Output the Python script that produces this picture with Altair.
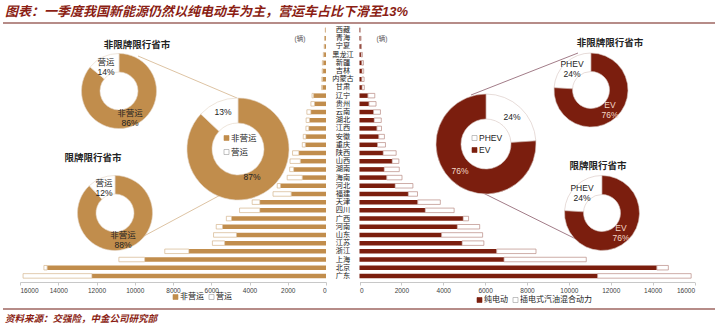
import altair as alt
import pandas as pd

# ---------------- data ----------------
provinces = ["西藏", "青海", "宁夏", "黑龙江", "新疆", "吉林", "内蒙古", "甘肃", "辽宁", "贵州",
             "云南", "湖北", "江西", "安徽", "重庆", "陕西", "山西", "湖南", "海南", "河北",
             "福建", "天津", "四川", "广西", "河南", "山东", "江苏", "浙江", "上海", "北京", "广东"]
non_operating = [30, 60, 80, 110, 150, 160, 180, 190, 650, 600, 790, 860, 900, 1050, 1080,
                 1420, 1340, 1690, 1240, 2380, 1820, 3460, 3460, 4940, 5410, 4680, 5300,
                 7170, 9480, 14580, 12240]
operating = [5, 10, 15, 30, 40, 40, 40, 40, 80, 190, 210, 180, 150, 140, 160,
             330, 540, 210, 790, 170, 950, 400, 1060, 270, 330, 1200, 640,
             1260, 1350, 170, 3600]
ev = [25, 55, 70, 80, 110, 120, 110, 120, 400, 450, 670, 700, 830, 920, 860,
      1130, 1560, 1180, 1300, 1700, 2330, 2780, 3140, 4950, 4670, 3920, 4900,
      6550, 6900, 14200, 11370]
phev = [10, 15, 25, 60, 80, 80, 110, 110, 330, 340, 330, 340, 220, 270, 380,
        620, 320, 720, 730, 850, 440, 1080, 1380, 260, 1070, 1960, 1040,
        1880, 3930, 550, 4470]

use_parts = ["非营运", "营运"]
use_nonlimited = [86, 14]
use_limited = [88, 12]
use_national = [87, 13]
pt_parts = ["PHEV", "EV"]
pt_nonlimited = [24, 76]
pt_limited = [24, 76]
pt_national = [24, 76]

axis_ticks = list(range(0, 16001, 2000))

# ---------------- style ----------------
FONT = "Liberation Sans, Noto Sans CJK SC"
TAN = "#C18D4C"
TAN_LINE = "#D4B48C"
RED = "#7B1E0E"
RED_LINE = "#B88A82"
TITLE_RED = "#8B1E14"

bars = pd.DataFrame({
    "province": provinces,
    "non_operating": non_operating,
    "operating": operating,
    "ev": ev,
    "phev": phev,
})
bars["total_left"] = bars["non_operating"] + bars["operating"]
bars["total_right"] = bars["ev"] + bars["phev"]

Y = alt.Y("province:N", sort=provinces,
          scale=alt.Scale(domain=provinces, range=[26, 280], paddingInner=0.45, paddingOuter=0.225),
          axis=None)

XL = alt.Scale(domain=[0, 16000], range=[326, 20], nice=False)
XR = alt.Scale(domain=[0, 16000], range=[359.5, 694.5], nice=False)


def x_axis():
    return alt.Axis(values=axis_ticks, orient="bottom", offset=-44, format="d",
                    labelFontSize=6.5, labelColor="#404040", labelFont="Liberation Sans",
                    domainColor="#c8c8c8", tickColor="#c8c8c8", tickSize=3,
                    labelPadding=2, grid=False, title=None)


left_nonop = alt.Chart(bars).mark_bar(color=TAN).encode(
    x=alt.X("non_operating:Q", scale=XL, axis=x_axis(), stack=None), y=Y)
left_op = alt.Chart(bars).mark_bar(fill="white", stroke=TAN_LINE, strokeWidth=0.7).encode(
    x=alt.X("non_operating:Q", scale=XL, axis=None, stack=None), x2="total_left:Q", y=Y)
right_ev = alt.Chart(bars).mark_bar(color=RED).encode(
    x=alt.X("ev:Q", scale=XR, axis=x_axis(), stack=None), y=Y)
right_phev = alt.Chart(bars).mark_bar(fill="white", stroke=RED_LINE, strokeWidth=0.7).encode(
    x=alt.X("ev:Q", scale=XR, axis=None, stack=None), x2="total_right:Q", y=Y)

prov_labels = alt.Chart(bars).mark_text(align="center", baseline="middle", fontSize=7.2,
                                         font=FONT, color="#1a1a1a").encode(
    y=Y, x=alt.value(343), text="province:N")

COLOR = alt.Scale(domain=["非营运", "营运", "EV", "PHEV"], range=[TAN, "white", RED, "white"])


def donut(parts, vals, cx, cy, r0, r1, stroke, order):
    df = pd.DataFrame({"part": parts, "pct": vals, "idx": order})
    return alt.Chart(df).mark_arc(innerRadius=r0, outerRadius=r1, stroke=stroke, strokeWidth=0.6).encode(
        theta=alt.Theta("pct:Q", stack=True, scale=alt.Scale(domain=[0, 100])),
        order=alt.Order("idx:Q"),
        color=alt.Color("part:N", scale=COLOR, legend=None),
        x=alt.value(cx), y=alt.value(cy))


def txt(s, x, y, size=8.5, color="#222", weight="normal", align="center", italic=False, font=FONT):
    return alt.Chart(alt.Data(values=[{"t": s}])).mark_text(
        fontSize=size, color=color, fontWeight=weight, align=align, baseline="middle",
        font=font, fontStyle="italic" if italic else "normal",
        lineBreak="\n", lineHeight=10).encode(
        x=alt.value(x), y=alt.value(y), text="t:N")


def lbl(name, pct, x, y, color="#222"):
    # two-line label (name over percentage), anchored at its vertical centre
    return txt(f"{name}\n{pct}%", x, y - 5, color=color)


def rule(x1, y1, x2, y2, color, width=0.8):
    return alt.Chart(alt.Data(values=[{"a": 1}])).mark_rule(color=color, strokeWidth=width).encode(
        x=alt.value(x1), y=alt.value(y1), x2=alt.value(x2), y2=alt.value(y2))


def box(x, y, fill, stroke, s=5):
    return alt.Chart(alt.Data(values=[{"a": 1}])).mark_rect(fill=fill, stroke=stroke, strokeWidth=0.6).encode(
        x=alt.value(x), x2=alt.value(x + s), y=alt.value(y - s / 2), y2=alt.value(y + s / 2))


layers = [left_nonop, left_op, right_ev, right_phev, prov_labels]

# connector lines
layers += [rule(138, 56, 237, 98, TAN_LINE), rule(144, 236, 226, 192, TAN_LINE),
           rule(471, 95, 578, 53, "#8a5a6a"), rule(477, 190, 584, 243, "#8a5a6a")]

# donuts
LIGHT = "#e2d3c2"
LIGHT_R = "#d6c4c0"
layers += [
    donut(use_parts, use_nonlimited, 119, 91, 19, 37.5, LIGHT, [0, 1]),
    donut(use_parts, use_limited, 115, 213, 19, 37.5, LIGHT, [0, 1]),
    donut(use_parts, use_national, 238, 149, 26, 51, LIGHT, [0, 1]),
    donut(pt_parts, pt_national, 486, 144, 25, 50, LIGHT_R, [0, 1]),
    donut(pt_parts, pt_nonlimited, 591, 90, 18.5, 37, LIGHT_R, [1, 0]),
    donut(pt_parts, pt_limited, 602, 213, 18.5, 37.5, LIGHT_R, [1, 0]),
]

LT = "#f4d9c8"
# donut titles and labels
layers += [
    txt("非限牌限行省市", 137, 45, size=9.5, weight="bold"),
    lbl(use_parts[1], use_nonlimited[1], 106, 67),
    lbl(use_parts[0], use_nonlimited[0], 130, 118),
    txt("限牌限行省市", 93, 158, size=9.5, weight="bold"),
    lbl(use_parts[1], use_limited[1], 104, 188),
    lbl(use_parts[0], use_limited[0], 123, 240),
    txt(f"{use_national[1]}%", 223, 112), txt(f"{use_national[0]}%", 252, 177),
    box(224, 138, TAN, TAN), txt(use_parts[0], 231, 138, align="left"),
    box(224, 152, "white", "#999"), txt(use_parts[1], 231, 152, align="left"),
    txt("非限牌限行省市", 610, 43, size=9.5, weight="bold"),
    lbl(pt_parts[0], pt_nonlimited[0], 572, 69),
    lbl(pt_parts[1], pt_nonlimited[1], 610, 110, color=LT),
    txt("限牌限行省市", 598, 166, size=9.5, weight="bold"),
    lbl(pt_parts[0], pt_limited[0], 582, 193),
    lbl(pt_parts[1], pt_limited[1], 621, 233, color=LT),
    txt(f"{pt_national[0]}%", 512, 117), txt(f"{pt_national[1]}%", 460, 171, color=LT),
    box(472, 138, "white", "#999"), txt(pt_parts[0], 479, 138, align="left"),
    box(472, 150, RED, RED), txt(pt_parts[1], 479, 150, align="left"),
]

# units, legends
layers += [
    txt("(辆)", 300, 39, size=6.5, color="#555"),
    txt("(辆)", 382, 39, size=6.5, color="#555"),
    box(173, 297, TAN, TAN), txt("非营运", 180, 297, size=8, align="left"),
    box(209, 297, "white", "#999"), txt("营运", 216, 297, size=8, align="left"),
    box(477, 300, RED, RED), txt("纯电动", 484, 300, size=8, align="left"),
    box(513, 300, "white", "#999"), txt("插电式汽油混合动力", 520, 300, size=8, align="left"),
]

# title & footer
layers += [
    txt("图表：一季度我国新能源仍然以纯电动车为主，营运车占比下滑至13%", 5, 12, size=13,
        color=TITLE_RED, weight="bold", align="left", italic=True),
    rule(3, 23, 715, 23, "#6e1a12", 1.2),
    rule(3, 309, 715, 309, "#6e1a12", 1.2),
    txt("资料来源：交强险，中金公司研究部", 5, 319, size=9.5, color=TITLE_RED,
        weight="bold", align="left", italic=True),
]

chart = alt.layer(*layers).resolve_scale(x="independent").resolve_axis(x="independent").properties(
    width=718, height=326, padding=0, autosize=alt.AutoSizeParams(type="none"),
    background="white",
).configure_view(stroke=None)

chart.save("out.html", embed_options={"renderer": "svg", "actions": False})
